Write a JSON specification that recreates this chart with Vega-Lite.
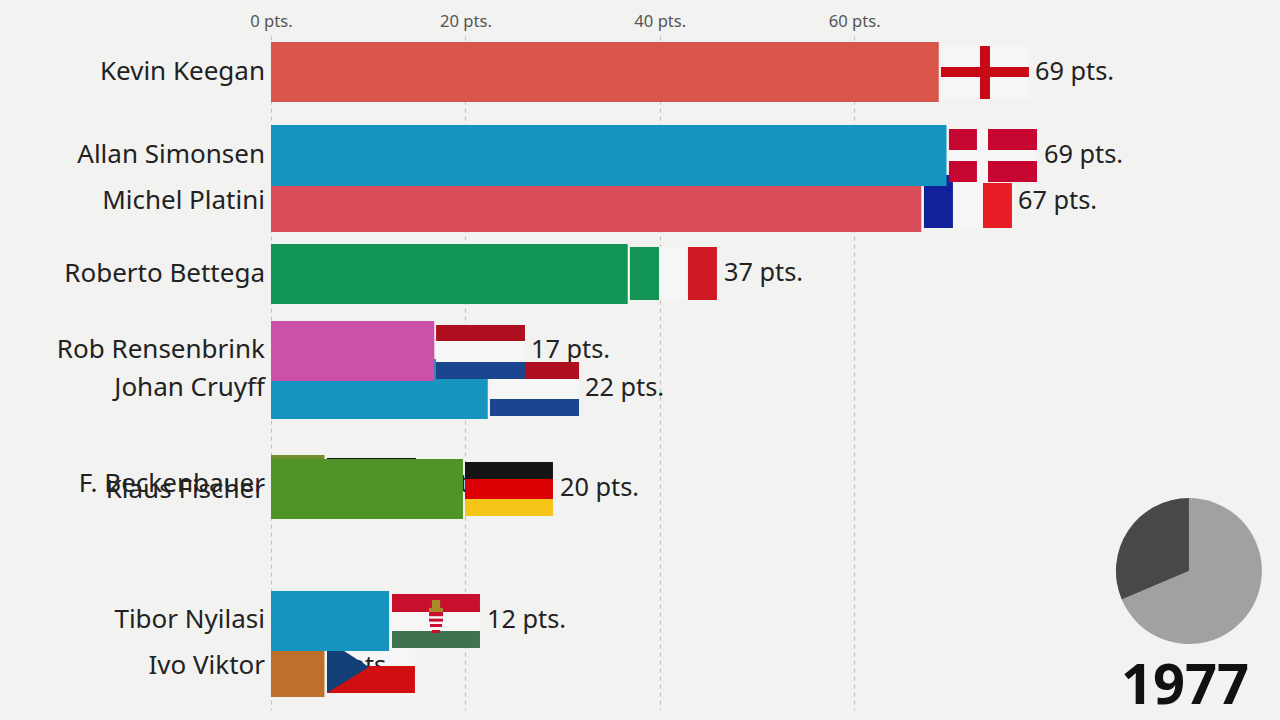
{"$schema":"https://vega.github.io/schema/vega-lite/v6.json","autosize":{"type":"none"},"padding":{"left":271,"top":36,"right":0,"bottom":10},"width":1009,"height":674,"background":"#f2f3f1","config":{"view":{"stroke":null},"font":"Noto Sans"},
"datasets":{
"bars":[
{"name":"F. Beckenbauer","base":0,"points":5.5,"r0":6.383,"r1":7.383,"ny":6.85},
{"name":"Klaus Fischer","base":0,"points":19.75,"r0":6.45,"r1":7.45,"ny":6.95},
{"name":"Ivo Viktor","base":0,"points":5.5,"r0":9.417,"r1":10.417,"ny":9.883},
{"name":"Tibor Nyilasi","base":0,"points":12.15,"r0":8.65,"r1":9.65,"ny":9.117},
{"name":"Johan Cruyff","base":0,"points":22.3,"r0":4.783,"r1":5.783,"ny":5.25},
{"name":"Rob Rensenbrink","base":0,"points":16.8,"r0":4.15,"r1":5.15,"ny":4.617},
{"name":"Roberto Bettega","base":0,"points":36.7,"r0":2.867,"r1":3.867,"ny":3.35},
{"name":"Michel Platini","base":0,"points":66.9,"r0":1.667,"r1":2.667,"ny":2.133},
{"name":"Allan Simonsen","base":0,"points":69.5,"r0":0.883,"r1":1.9,"ny":1.367},
{"name":"Kevin Keegan","base":0,"points":68.7,"r0":-0.5,"r1":0.5,"ny":-0.017}],
"labels":[
{"t":"6 pts.","lx":15.64,"ly":6.85},
{"t":"20 pts.","lx":29.73,"ly":6.917},
{"t":"6 pts.","lx":5.9,"ly":9.883},
{"t":"12 pts.","lx":22.22,"ly":9.117},
{"t":"22 pts.","lx":32.3,"ly":5.25},
{"t":"17 pts.","lx":26.75,"ly":4.617},
{"t":"37 pts.","lx":46.6,"ly":3.333},
{"t":"67 pts.","lx":76.85,"ly":2.133},
{"t":"69 pts.","lx":79.53,"ly":1.367},
{"t":"69 pts.","lx":78.6,"ly":-0.017}],
"whites":[
{"x0":68.93,"x1":77.98,"r0":-0.433,"r1":0.45},
{"x0":69.75,"x1":78.81,"r0":0.95,"r1":1.833},
{"x0":70.16,"x1":73.25,"r0":1.733,"r1":2.6},
{"x0":39.92,"x1":42.9,"r0":2.917,"r1":3.8},
{"x0":22.53,"x1":31.69,"r0":5.117,"r1":5.45},
{"x0":12.45,"x1":21.5,"r0":8.833,"r1":9.317},
{"x0":5.76,"x1":14.81,"r0":9.467,"r1":9.9}],
"stripes":[
{"part":"de black","x0":5.76,"x1":14.92,"r0":6.433,"r1":6.72},
{"part":"de red","x0":5.76,"x1":14.92,"r0":6.72,"r1":7.05},
{"part":"de gold","x0":5.76,"x1":14.92,"r0":7.05,"r1":7.33},
{"part":"de black","x0":19.96,"x1":29.01,"r0":6.5,"r1":6.783},
{"part":"de red","x0":19.96,"x1":29.01,"r0":6.783,"r1":7.117},
{"part":"de gold","x0":19.96,"x1":29.01,"r0":7.117,"r1":7.4},
{"part":"cz red","x0":5.76,"x1":14.81,"r0":9.9,"r1":10.35},
{"part":"hu red","x0":12.45,"x1":21.5,"r0":8.7,"r1":9.0},
{"part":"hu green","x0":12.45,"x1":21.5,"r0":9.317,"r1":9.6},
{"part":"hu crown","x0":16.56,"x1":17.4,"r0":8.8,"r1":9.0},
{"part":"hu crown","x0":16.26,"x1":17.7,"r0":8.93,"r1":9.0},
{"part":"hu red","x0":16.26,"x1":17.7,"r0":9.0,"r1":9.07},
{"part":"hu red","x0":16.26,"x1":17.7,"r0":9.11,"r1":9.16},
{"part":"hu red","x0":16.36,"x1":17.6,"r0":9.2,"r1":9.25},
{"part":"hu red","x0":16.56,"x1":17.4,"r0":9.3,"r1":9.35},
{"part":"nl red","x0":22.53,"x1":31.69,"r0":4.833,"r1":5.117},
{"part":"nl blue","x0":22.53,"x1":31.69,"r0":5.45,"r1":5.733},
{"part":"it green","x0":36.93,"x1":39.92,"r0":2.917,"r1":3.8},
{"part":"it red","x0":42.9,"x1":45.88,"r0":2.917,"r1":3.8},
{"part":"fr blue","x0":67.18,"x1":70.16,"r0":1.717,"r1":2.6},
{"part":"fr red","x0":73.25,"x1":76.23,"r0":1.85,"r1":2.6},
{"part":"dk red","x0":69.75,"x1":72.63,"r0":0.95,"r1":1.3},
{"part":"dk red","x0":73.77,"x1":78.81,"r0":0.95,"r1":1.3},
{"part":"dk red","x0":69.75,"x1":72.63,"r0":1.483,"r1":1.833},
{"part":"dk red","x0":73.77,"x1":78.81,"r0":1.483,"r1":1.833},
{"part":"en red","x0":68.93,"x1":77.98,"r0":-0.083,"r1":0.083},
{"part":"en red","x0":72.94,"x1":73.97,"r0":-0.433,"r1":0.45}],
"topflag":[
{"part":"nl red","x0":16.98,"x1":26.13,"r0":4.217,"r1":4.483},
{"part":"nl white","x0":16.98,"x1":26.13,"r0":4.483,"r1":4.833},
{"part":"nl blue","x0":16.98,"x1":26.13,"r0":4.833,"r1":5.117}],
"hoist":[
{"hx":5.76,"top":9.467,"bottom":10.35},
{"hx":10.08,"top":9.917,"bottom":9.917}],
"pie":[{"slice":"rest","share":68.6,"seq":1,"px":94.44,"pr":8.317},{"slice":"elapsed","share":31.4,"seq":2,"px":94.44,"pr":8.317}],
"year":[{"year":"1977","px":94.03,"pr":10.25}]
},
"layer":[
{"data":{"name":"whites"},"mark":{"type":"rect","color":"#f5f6f5"},
"encoding":{
"x":{"field":"x0","type":"quantitative","scale":{"domain":[0,103.81],"nice":false,"zero":true},
"axis":{"orient":"top","values":[0,20,40,60],"labelExpr":"datum.label + ' pts.'","title":null,"domain":false,"ticks":false,"labelPadding":7,"labelFontSize":16.6,"labelColor":"#555555","labelFont":"Noto Sans","labelFlush":false,"labelBound":false,"grid":true,"gridColor":"#c4c5c3","gridDash":[4,4],"gridWidth":1.2}},
"x2":{"field":"x1"},
"y":{"field":"r0","type":"quantitative","scale":{"domain":[-0.6,10.633],"reverse":true,"nice":false,"zero":false},"axis":null},
"y2":{"field":"r1"}}},
{"data":{"name":"labels"},"mark":{"type":"text","align":"left","baseline":"middle","dy":1,"fontSize":25.3,"color":"#222222","font":"Noto Sans"},
"encoding":{"x":{"field":"lx","type":"quantitative"},"y":{"field":"ly","type":"quantitative"},"text":{"field":"t"}}},
{"data":{"name":"stripes"},"mark":{"type":"rect"},
"encoding":{"x":{"field":"x0","type":"quantitative"},"x2":{"field":"x1"},"y":{"field":"r0","type":"quantitative"},"y2":{"field":"r1"},
"color":{"field":"part","type":"nominal","legend":null,"scale":{"domain":["de black","de red","de gold","cz red","hu red","hu green","hu crown","nl red","nl blue","it green","it red","fr blue","fr red","dk red","en red"],"range":["#141414","#dc0005","#f5c518","#d20f10","#c8102e","#3f7350","#a88a2c","#ae1020","#1c4590","#129455","#cf1a26","#10219a","#e81c24","#c60530","#c90a16"]}}}},
{"data":{"name":"hoist"},"mark":{"type":"area","orient":"vertical","color":"#123f78"},
"encoding":{"x":{"field":"hx","type":"quantitative"},"y":{"field":"top","type":"quantitative"},"y2":{"field":"bottom"}}},
{"data":{"name":"bars"},"mark":{"type":"rect"},
"encoding":{"x":{"field":"base","type":"quantitative"},"x2":{"field":"points"},"y":{"field":"r0","type":"quantitative"},"y2":{"field":"r1"},
"color":{"field":"name","type":"nominal","legend":null,"scale":{"domain":["F. Beckenbauer","Klaus Fischer","Ivo Viktor","Tibor Nyilasi","Johan Cruyff","Rob Rensenbrink","Roberto Bettega","Michel Platini","Allan Simonsen","Kevin Keegan"],"range":["#6f8f2c","#509428","#bd6f2b","#1494bf","#1494bf","#cc4fa8","#129455","#d94d5a","#1494bf","#d95549"]}}}},
{"data":{"name":"topflag"},"mark":{"type":"rect"},
"encoding":{"x":{"field":"x0","type":"quantitative"},"x2":{"field":"x1"},"y":{"field":"r0","type":"quantitative"},"y2":{"field":"r1"},
"color":{"field":"part","type":"nominal","legend":null,"scale":{"domain":["nl red","nl white","nl blue"],"range":["#ae1020","#f5f6f5","#1c4590"]}}}},
{"data":{"name":"bars"},"mark":{"type":"text","align":"right","baseline":"middle","dx":-6,"dy":1,"fontSize":26,"color":"#222222","font":"Noto Sans"},
"encoding":{"x":{"field":"base","type":"quantitative"},"y":{"field":"ny","type":"quantitative"},"text":{"field":"name"}}},
{"data":{"name":"pie"},"mark":{"type":"arc","radius":73},
"encoding":{"x":{"field":"px","type":"quantitative"},"y":{"field":"pr","type":"quantitative"},
"theta":{"field":"share","type":"quantitative"},
"order":{"field":"seq"},
"color":{"field":"slice","type":"nominal","legend":null,"scale":{"domain":["rest","elapsed"],"range":["#a1a2a0","#484947"]}}}},
{"data":{"name":"year"},"mark":{"type":"text","align":"center","baseline":"middle","fontSize":56,"fontWeight":"bold","color":"#111111","font":"Noto Sans"},
"encoding":{"x":{"field":"px","type":"quantitative"},"y":{"field":"pr","type":"quantitative"},"text":{"field":"year"}}}
],
"resolve":{"scale":{"color":"independent"}}}
